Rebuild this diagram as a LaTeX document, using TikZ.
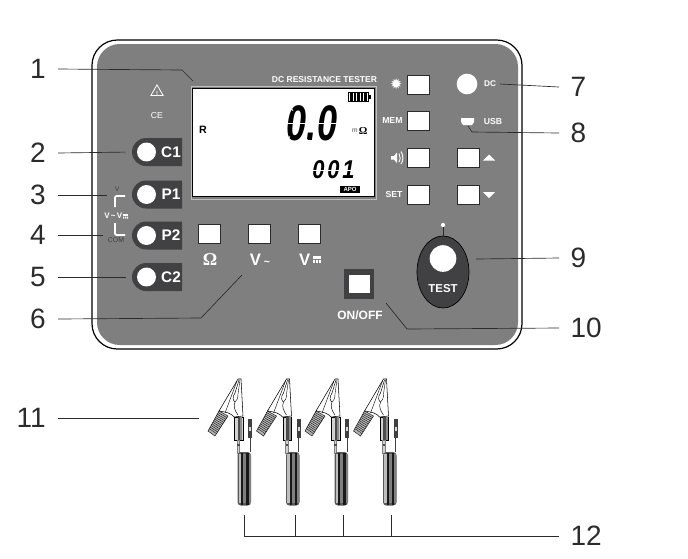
\documentclass[tikz,border=0pt]{standalone}
\usepackage{fontspec}
\setmainfont{Liberation Sans}
\newfontfamily\dejafont{DejaVu Sans}
\newfontfamily\seriffont{Liberation Serif}
\usepackage{xcolor}
\usepackage{tikz}
\usetikzlibrary{arrows.meta,positioning,shapes,shapes.geometric,shapes.misc,calc}
\definecolor{panelgray}{HTML}{7F7F7F}
\definecolor{sockdark}{HTML}{414042}
\definecolor{linedark}{HTML}{2B2B2B}
\tikzset{
  numleft/.style={anchor=east,inner xsep=9pt,inner ysep=0pt,font=\fontsize{21}{21}\selectfont,text=linedark},
  numright/.style={anchor=west,inner xsep=8.5pt,inner ysep=0pt,font=\fontsize{21}{21}\selectfont,text=linedark},
  leader/.style={draw=linedark,line width=0.5pt},
  keybox/.style={rectangle,draw=linedark,line width=0.4pt,fill=white,minimum width=16.5pt,minimum height=14.25pt,inner sep=0pt},
  sockbody/.style={rounded rectangle,rounded rectangle right arc=none,fill=sockdark,minimum width=37.5pt,minimum height=21pt,inner sep=0pt},
  sockhole/.style={circle,fill=white,minimum size=14.2pt,inner sep=0pt},
  socktext/.style={text=white,inner sep=0pt,font=\fontsize{11.5}{11.5}\selectfont\bfseries},
  tinywhite/.style={text=white,inner sep=0pt,font=\fontsize{5.2}{5.2}\selectfont\bfseries},
  keytext/.style={text=white,inner sep=0pt,font=\fontsize{12.5}{12.5}\selectfont\bfseries},
  segcut/.style={white,line width=0.7pt},
}
% one clip lead, drawn at its x offset
\newcommand{\cliplead}[1]{
  \begin{scope}[xshift=#1*0.75pt]
    \fill[gray!60,draw=black,line width=0.3pt] (219,411) -- (228,416) -- (215,436) -- (208,431) -- cycle;
    \foreach \t in {0.08,0.16,...,0.96}{
      \draw[black,line width=0.25pt] ($(219,411)!\t!(208,431)$) -- ($(228,416)!\t!(215,436)$);
    }
    \fill[white,draw=black,line width=0.4pt] (238,379) -- (219,411) .. controls (226,412) and (231,413) .. (234,417) -- (243,416) -- (241,379) -- cycle;
    \draw[black,line width=0.3pt] (237,381) -- (225,413);
    \draw[black,line width=0.35pt] (239,380) -- (235,393) .. controls (232,397) and (233,401) .. (235,402) .. controls (233,406) and (235,411) .. (238,415);
    \draw[black,line width=0.3pt] (240,380) -- (238,394) .. controls (238,398) and (237,401) .. (235,402);
    \fill[gray!35,draw=black,line width=0.3pt] (234.5,417) rectangle (243,440);
    \fill[black!70] (237.5,417) rectangle (240,440);
    \fill[black!45] (240,417) rectangle (242,440);
    \fill[gray!35,draw=gray,line width=0.2pt] (237,440) rectangle (239.5,453);
    \fill[black!70] (237,444) rectangle (239.5,445.5);
    \draw[black!75,line width=0.6pt] (250,438) -- (250,452);
    \fill[black!75] (248,419) rectangle (252,438);
    \fill[gray!30] (249,427) rectangle (251,431);
    \fill[black!65,rounded corners=2.5pt] (237.5,452) rectangle (251,505.5);
    \fill[gray!50] (238.5,454) rectangle (241,503);
    \fill[black!90] (241,453) rectangle (243,505);
    \fill[black!50] (243,454) rectangle (246,503);
    \fill[black!90] (246,453) rectangle (248.5,505);
    \fill[black!50] (248.5,454) rectangle (250.5,503);
  \end{scope}
}
\begin{document}
\begin{tikzpicture}[x=0.75pt,y=-0.75pt]
\useasboundingbox (0,0) rectangle (688,558);
\fill[white] (0,0) rectangle (688,558);
% panel
\draw[black,line width=0.9pt,rounded corners=19pt] (92,40) rectangle (522,349);
\fill[panelgray,rounded corners=17pt] (97,44) rectangle (518,345);

% display
\node[rectangle,draw=black,line width=0.9pt,fill=white,minimum width=136pt,minimum height=81pt,inner sep=0pt,outer sep=0pt] (lcd) at (283.5,142.5) {};
\node[rectangle,draw=white!75!black,line width=0.5pt,minimum width=139pt,minimum height=84.5pt,inner sep=0pt] (lcdrim) at (283.5,142.5) {};
\node[text=white,inner sep=0pt,font=\fontsize{6.4}{6.4}\selectfont\bfseries] (title) at (324.5,79.5) {DC RESISTANCE TESTER};
\node[inner sep=0pt,font=\fontsize{8}{8}\selectfont\bfseries] (rsign) at (203,130) {R};
\node[inner sep=0pt,font=\fontsize{37.5}{37.5}\selectfont\bfseries\itshape] (bigval) at (312,123.5) {\scalebox{0.72}[1]{0.0}};
\node[inner sep=0pt,font=\fontsize{19.3}{19.3}\selectfont\bfseries\itshape] (smallval) at (333.5,170) {\scalebox{0.85}[1]{0\kern2.55pt0\kern2.55pt1}};
% gaps between the display segments
\foreach \cx/\cy/\hw/\hh in {298/123.5/12/19,327/123.5/12/19}{
  \draw[segcut] ({\cx-\hw-2},\cy) -- ({\cx+\hw+2},\cy);
  \draw[segcut] ({\cx-\hw+2},{\cy-\hh+1}) -- ++(5,5);
  \draw[segcut] ({\cx+\hw+3},{\cy-\hh+1}) -- ++(-5,5);
  \draw[segcut] ({\cx-\hw-1},{\cy+\hh-1}) -- ++(5,-5);
  \draw[segcut] ({\cx+\hw-1},{\cy+\hh-1}) -- ++(-5,-5);
}
\draw[segcut] (310,170) -- (357,170);
\node[inner sep=0pt,font=\fontsize{5}{5}\selectfont,text=black!70] (munit) at (355,131) {m};
\node[inner sep=0pt,font=\fontsize{8}{8}\selectfont\seriffont\bfseries,right=0.5pt of munit] (ohmunit) {Ω};
\node[rectangle,fill=black,text=white,minimum width=15pt,minimum height=5.25pt,inner sep=0pt,font=\fontsize{4.5}{4.5}\selectfont\bfseries] (apo) at (350,189.5) {APO};
\node[rectangle,draw=black,line width=0.5pt,minimum width=15pt,minimum height=6.5pt,inner sep=0pt] (batt) at (358,97) {};
\foreach \x in {350,353.5,357,360.5,364}{
  \fill[black] (\x,92.5) rectangle +(2.5,9);
}
\fill[black] (369,95) rectangle (370.5,99);

% side marks
\node[isosceles triangle,isosceles triangle apex angle=60,shape border rotate=90,draw=white,line width=0.6pt,minimum size=8pt,inner sep=0pt] (warn) at (157,92) {};
\node[text=white,inner sep=0pt,font=\fontsize{4.5}{5}\selectfont\bfseries] at (157,93) {!};
\node[text=white,inner sep=0pt,font=\fontsize{6.5}{6.5}\selectfont] (ce) at (157,116) {CE};

% keys
\foreach \name/\x/\y in {klight/418/84.5,kmem/418/121,ksound/418/157.5,kset/418/194.5,kup/468/157.5,kdown/468/194.5,kohm/209.5/233.5,kvac/259.5/233.5,kvdc/309.5/233.5}{
  \node[keybox] (\name) at (\x,\y) {};
}
\node[left=3pt of klight,text=white,inner sep=0pt,font=\fontsize{11}{11}\selectfont\dejafont] (sunmark) {✹};
\node[tinywhite,left=3pt of kmem,font=\fontsize{6.5}{6.5}\selectfont\bfseries] (memtext) {MEM};
\node[tinywhite,left=3pt of kset,font=\fontsize{6.5}{6.5}\selectfont\bfseries] (settext) {SET};
\fill[white] (391,156) -- (394,156) -- (397,152.5) -- (397,163) -- (394,159.5) -- (391,159.5) -- cycle;
\draw[white,line width=0.7pt] (399,153.5) .. controls (400.5,156) and (400.5,160) .. (399,162);
\draw[white,line width=0.7pt] (401,151.5) .. controls (403.5,155) and (403.5,161) .. (401,164);
\fill[white] (483,160.5) -- (495,160.5) -- (489,154.5) -- cycle;
\fill[white] (483,192) -- (495,192) -- (489,198) -- cycle;

% dc jack and usb
\node[circle,fill=white,minimum size=15.5pt,inner sep=0pt] (dcjack) at (467,84) {};
\node[tinywhite,font=\fontsize{6.2}{6.2}\selectfont\bfseries] (dctext) at (490,84) {DC};
\fill[white] (461,118) -- (474,118) -- (474,122) -- (472,125) -- (463,125) -- (461,122) -- cycle;
\coordinate (usbport) at (468,126);
\node[tinywhite,font=\fontsize{6.5}{6.5}\selectfont\bfseries] (usbtext) at (493,122) {USB};

% sockets
\foreach \name/\lab/\y in {cone/C1/152,pone/P1/194.5,ptwo/P2/235.5,ctwo/C2/277}{
  \node[sockbody] (\name) at (157,\y) {};
  \node[sockhole] at (146.5,\y) {};
  \node[socktext] at (171,\y) {\lab};
}
\node[inner sep=0pt,text=black!75,font=\fontsize{5}{5}\selectfont] (vtext) at (117,189.5) {V};
\node[inner sep=0pt,text=black!75,font=\fontsize{5.2}{5.2}\selectfont] (comtext) at (116,240) {COM};
\node[tinywhite,anchor=west,font=\fontsize{6}{6}\selectfont\bfseries] (vrange) at (104,216) {V\,\textasciitilde\,V};
\fill[white] (123,213.5) rectangle (128,215.5);
\fill[white] (123,216.5) rectangle (124.2,218.5) (125,216.5) rectangle (126.2,218.5) (126.8,216.5) rectangle (128,218.5);
\draw[white,line width=1.4pt,rounded corners=1pt] (115,207) -- (115,196) -- (125,196);
\draw[white,line width=1.4pt,rounded corners=1pt] (115,223) -- (115,235) -- (125,235);

% range labels
\node[keytext,font=\fontsize{13.5}{13.5}\selectfont\seriffont\bfseries] (ohmtext) at (210,260) {Ω};
\node[keytext,anchor=base] (vactext) at (260,265) {V\,{\fontsize{8}{8}\selectfont\textasciitilde}};
\node[keytext,anchor=east] (vdctext) at (310.5,259.5) {V};
\fill[white] (313,256) rectangle (321,258.5);
\foreach \x in {313,316,319}{
  \fill[white] (\x,259.5) rectangle +(2,3.5);
}

% on/off
\node[rectangle,fill=sockdark,minimum width=22.5pt,minimum height=22.5pt,inner sep=0pt] (power) at (359,284) {};
\node[rectangle,fill=white,minimum width=15.5pt,minimum height=13.5pt,inner sep=0pt] at (359.5,284) {};
\node[inner sep=0pt,text=white,font=\fontsize{9}{9}\selectfont\bfseries] (powertext) at (360,315) {ON/OFF};

% test key
\node[ellipse,draw=black,line width=0.5pt,fill=sockdark,minimum width=39pt,minimum height=54pt,inner sep=0pt] (testkey) at (443,272) {};
\node[circle,fill=white,minimum size=20pt,inner sep=0pt] (testhole) at (443,258.5) {};
\node[inner sep=0pt,text=white,font=\fontsize{8.6}{8.6}\selectfont\bfseries] (testtext) at (443,289) {TEST};
\node[circle,fill=white,minimum size=3.2pt,inner sep=0pt] (testled) at (443,225) {};
\draw[linedark,line width=0.6pt] (testled) -- (testkey);

% leads
\foreach \dx in {0,48.5,97,145.5}{
  \cliplead{\dx}
}

% numbers
\node[numleft] (n1) at (58,69) {1};
\node[numleft] (n2) at (58,153) {2};
\node[numleft] (n3) at (58,195) {3};
\node[numleft] (n4) at (58,235) {4};
\node[numleft] (n5) at (58,277) {5};
\node[numleft] (n6) at (58,319) {6};
\node[numleft] (n11) at (58,418) {11};
\node[numright] (n7) at (559,87) {7};
\node[numright] (n8) at (559,133) {8};
\node[numright] (n9) at (559,258) {9};
\node[numright] (n10) at (559,328) {10};
\node[numright] (n12) at (559,536) {12};

% leader ends
\coordinate (e1) at (193,81);
\coordinate (e6) at (242,275);
\coordinate (e7) at (500,84);
\coordinate (e9) at (476,259);
\coordinate (e10) at (386,303);
\coordinate (e11) at (199,418);
\coordinate (e3) at (107,195);
\coordinate (e4) at (103,235);
\coordinate (tap1) at (244,515);
\coordinate (tap2) at (295,515);
\coordinate (tap3) at (343,515);
\coordinate (tap4) at (391,515);

\draw[leader] (n1.east) -- (182,70) -- (e1);
\draw[leader,shorten >=4.5pt] (n2.east) -- (cone.west);
\draw[leader] (n3.east) -- (e3);
\draw[leader] (n4.east) -- (e4);
\draw[leader,shorten >=4.5pt] (n5.east) -- (ctwo.west);
\draw[leader] (n6.east) -- (201,318) -- (e6);
\draw[leader] (n7.west) -- (e7);
\draw[leader] (n8.west) -- (472,132) -- (usbport);
\draw[leader] (n9.west) -- (e9);
\draw[leader] (n10.west) -- (407,329) -- (e10);
\draw[leader] (n11.east) -- (e11);
\draw[leader] (n12.west) -- (tap1 |- n12.west) -- (tap1);
\foreach \t in {tap2,tap3,tap4}{
  \draw[leader] (\t) -- (\t |- n12.west);
}
\end{tikzpicture}
\end{document}
